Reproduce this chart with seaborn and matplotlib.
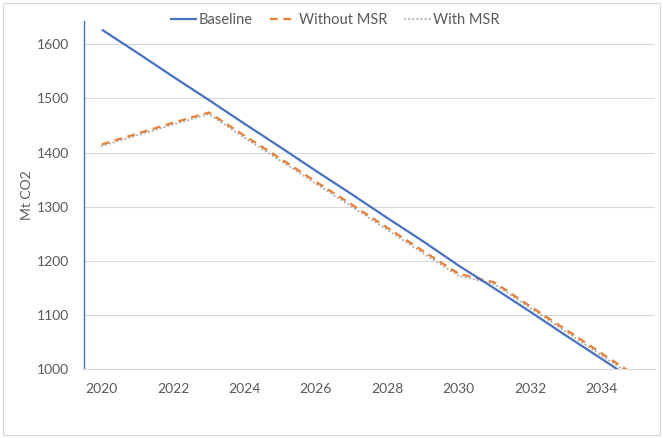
import matplotlib
matplotlib.use("Agg")
import matplotlib.pyplot as plt
import seaborn as sns
import pandas as pd
from matplotlib.patches import Rectangle

years = list(range(2020, 2036))
baseline = [1627, 1584, 1540, 1497, 1453, 1410, 1366, 1323, 1279, 1236, 1191, 1149, 1106, 1062, 1019, 975]
without_msr = [1415, 1435, 1455, 1474, 1431, 1389, 1346, 1304, 1261, 1218, 1176, 1160, 1116, 1073, 1029, 986]
with_msr = [1412, 1432, 1452, 1471, 1427, 1385, 1342, 1300, 1257, 1214, 1172, 1157, 1113, 1069, 1025, 982]
tick_labels = [str(y) for y in range(2020, 2035, 2)]
y_ticks = [1000, 1100, 1200, 1300, 1400, 1500, 1600]

sns.set_theme(style="white")
plt.rcParams['font.family'] = ['Lato', 'DejaVu Sans']

text_col = '#595959'
grid_col = '#D9D9D9'

fig = plt.figure(figsize=(6.63, 4.38), dpi=100)
ax = fig.add_axes([84/663, 1-369/438, (655-84)/663, (369-21)/438])

pos = list(range(len(years)))
df = pd.DataFrame({'pos': pos, 'Baseline': baseline, 'Without MSR': without_msr, 'With MSR': with_msr})

sns.lineplot(data=df, x='pos', y='Baseline', ax=ax, color='#4472C4', lw=1.6, label='Baseline', zorder=4)
sns.lineplot(data=df, x='pos', y='Without MSR', ax=ax, color='#ED7D31', lw=1.6,
             linestyle=(0, (3.5, 2.5)), label='Without MSR', zorder=3)
sns.lineplot(data=df, x='pos', y='With MSR', ax=ax, color='#A5A5A5', lw=1.4,
             linestyle=(0, (0.1, 2.0)), label='With MSR', zorder=2)

ax.set_xlim(-0.5, 15.5)
ax.set_ylim(1000, 1643)
ax.set_yticks(y_ticks)
ax.set_yticklabels([str(v) for v in y_ticks], color=text_col, fontsize=10)
ax.set_xticks(list(range(0, 15, 2)))
ax.set_xticklabels(tick_labels, color=text_col, fontsize=10)
ax.set_xticks([p - 0.5 for p in range(17)], minor=True)
ax.tick_params(axis='x', which='major', length=0, pad=10)
ax.tick_params(axis='x', which='minor', length=4, width=0.8, color=grid_col, direction='out')
ax.tick_params(axis='y', which='major', length=3.6, width=0.8, color='#4472C4', direction='out', pad=7)

ax.grid(axis='y', color=grid_col, lw=0.8)
ax.grid(axis='x', visible=False)
ax.set_axisbelow(True)
for s in ['top', 'right']:
    ax.spines[s].set_visible(False)
ax.spines['left'].set_color('#4472C4')
ax.spines['left'].set_linewidth(1.0)
ax.spines['bottom'].set_color(grid_col)
ax.spines['bottom'].set_linewidth(0.8)

ax.set_xlabel('')
ax.set_ylabel('Mt CO2', color=text_col, fontsize=10)
ax.yaxis.set_label_coords(-51/571, 0.5)

lines = ax.get_lines()
for ln in lines:
    ln.set_solid_capstyle('butt')
lines[2].set_dash_capstyle('round')

handles, labels = ax.get_legend_handles_labels()
ax.get_legend().remove()
leg = fig.legend(handles, labels, loc='center', bbox_to_anchor=(335/663, 1-20/438), ncol=3,
                 frameon=False, fontsize=10.5, handlelength=1.8, handletextpad=0.15,
                 columnspacing=1.2, labelcolor=text_col)
for h in leg.legend_handles:
    h.set_solid_capstyle('butt')
leg.legend_handles[2].set_dash_capstyle('round')

fig.patches.append(Rectangle((3/663, 3/438), 657/663, 432/438, transform=fig.transFigure,
                             fill=False, edgecolor=grid_col, lw=0.8))

fig.savefig('out.png', dpi=100)
